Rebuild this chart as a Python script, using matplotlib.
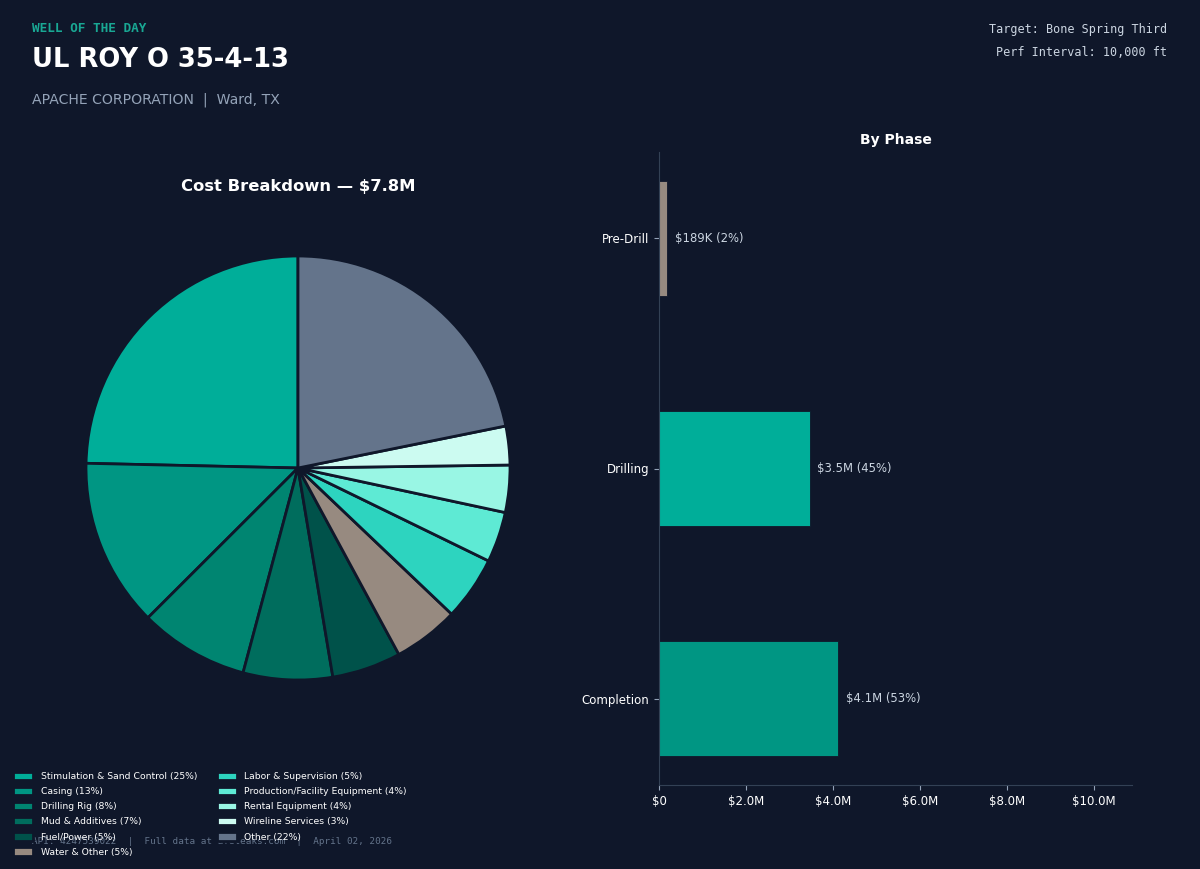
import matplotlib
matplotlib.use('Agg')
import matplotlib.pyplot as plt
from matplotlib.ticker import FuncFormatter

# cost categories (pie), values in dollars
categories = ['Stimulation & Sand Control', 'Casing', 'Drilling Rig', 'Mud & Additives',
              'Fuel/Power', 'Water & Other', 'Labor & Supervision',
              'Production/Facility Equipment', 'Rental Equipment', 'Wireline Services', 'Other']
category_costs = [1.92e6, 1.00e6, 0.65e6, 0.53e6, 0.41e6, 0.39e6, 0.38e6, 0.30e6, 0.28e6, 0.23e6, 1.70e6]
category_colors = ['#00AE99', '#009683', '#008571', '#006D5D', '#00524A', '#978A80',
                   '#2DD4BF', '#5EEAD4', '#99F6E4', '#CCFBF1', '#64748B']

# phases (bar chart)
phases = ['Completion', 'Drilling', 'Pre-Drill']
phase_costs = [4.12e6, 3.47e6, 0.189e6]
phase_colors = ['#009683', '#00AE99', '#978A80']

BG = '#0F172A'

fig = plt.figure(figsize=(12, 8.69), dpi=100, facecolor=BG)

total = sum(category_costs)

# header
fig.text(32/1200, 1 - 29/869, 'WELL OF THE DAY', color='#19A894', family='DejaVu Sans Mono',
         fontweight='bold', fontsize=9.2, va='center', ha='left')
fig.text(32/1200, 1 - 60/869, 'UL ROY O 35-4-13', color='white', fontweight='bold',
         fontsize=18.6, va='center', ha='left')
fig.text(32/1200, 1 - 100/869, 'APACHE CORPORATION  |  Ward, TX', color='#94A3B8',
         fontsize=10.1, va='center', ha='left')
fig.text(1167/1200, 1 - 30/869, 'Target: Bone Spring Third', color='#CBD5E1',
         family='DejaVu Sans Mono', fontsize=8.5, va='center', ha='right')
fig.text(1167/1200, 1 - 52/869, 'Perf Interval: 10,000 ft', color='#CBD5E1',
         family='DejaVu Sans Mono', fontsize=8.5, va='center', ha='right')

# pie
r = 212
cx, cy = 298, 468
ax1 = fig.add_axes([(cx - r)/1200, 1 - (cy + r)/869, (2*r)/1200, (2*r)/869])
ax1.set_facecolor(BG)
wedges, _ = ax1.pie(category_costs, colors=category_colors, startangle=90, counterclock=True,
                    wedgeprops=dict(edgecolor=BG, linewidth=2))
ax1.set_xlim(-1, 1)
ax1.set_ylim(-1, 1)
ax1.set_aspect('equal')
fig.text(cx/1200, 1 - 186/869, 'Cost Breakdown \u2014 $%.1fM' % (total/1e6), color='white',
         fontweight='bold', fontsize=11.8, ha='center', va='center')

labels = ['%s (%d%%)' % (c, round(v/total*100)) for c, v in zip(categories, category_costs)]
fig.legend(wedges, labels, loc='upper left', bbox_to_anchor=(9/1200, 1 - 768/869), ncol=2,
           frameon=False, fontsize=6.7, labelcolor='white', handlelength=2.2, handleheight=1.0,
           labelspacing=0.62, columnspacing=2.1, borderaxespad=0)

# bar chart
ax2 = fig.add_axes([659/1200, 1 - 785/869, (1132 - 659)/1200, (785 - 152)/869])
ax2.set_facecolor(BG)
ax2.barh(phases, phase_costs, height=0.5, color=phase_colors, edgecolor=BG, linewidth=0.6)
ax2.set_xlim(0, 10.87e6)
ax2.set_xticks([0, 2e6, 4e6, 6e6, 8e6, 10e6])
ax2.xaxis.set_major_formatter(FuncFormatter(lambda x, p: '$0' if x == 0 else '$%.1fM' % (x/1e6)))
for s in ['top', 'right']:
    ax2.spines[s].set_visible(False)
for s in ['left', 'bottom']:
    ax2.spines[s].set_color('#334155')
ax2.tick_params(colors='#94A3B8', labelcolor='white', labelsize=8.5)
ptotal = sum(phase_costs)
for i, v in enumerate(phase_costs):
    if v >= 1e6:
        txt = '$%.1fM' % (v/1e6)
    else:
        txt = '$%dK' % round(v/1e3)
    txt += ' (%d%%)' % round(v/ptotal*100)
    ax2.text(v + 0.17e6, i, txt, color='#CBD5E1', fontsize=8.4, va='center', ha='left')
ax2.set_title('By Phase', color='white', fontweight='bold', fontsize=10, pad=6)

# footer
fig.text(32/1200, 1 - 841/869, 'API: 4247539022  |  Full data at afeleaks.com  |  April 02, 2026',
         color='#64748B', family='DejaVu Sans Mono', fontsize=6.67, va='center', ha='left')

fig.savefig('out.png', dpi=100, facecolor=BG)
